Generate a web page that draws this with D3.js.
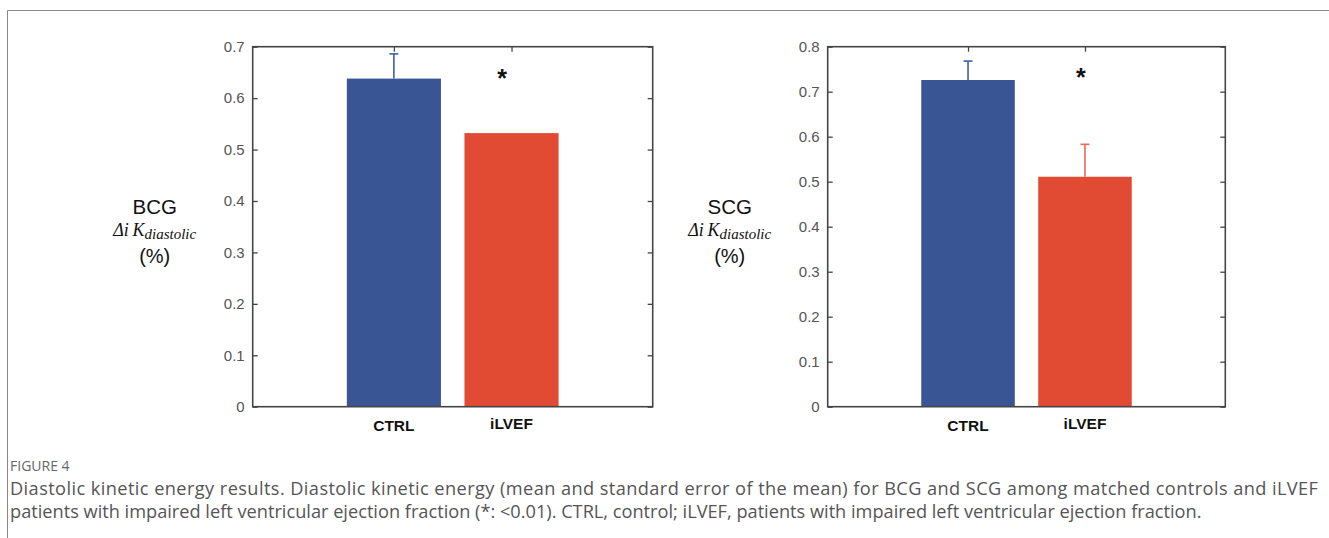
<!DOCTYPE html>
<html>
<head>
<meta charset="utf-8">
<script src="https://cdn.jsdelivr.net/npm/d3@7"></script>
<style>
  body { margin: 0; background: #fff; }
  svg { display: block; }
</style>
</head>
<body>
<div id="figure"></div>
<script>
// data
const groups = ["CTRL", "iLVEF"];
const bcgMean = [0.638, 0.532];
const bcgSem = [0.048, 0];
const scgMean = [0.726, 0.511];
const scgSem = [0.042, 0.072];
const bcgTicks = [0, 0.1, 0.2, 0.3, 0.4, 0.5, 0.6, 0.7];
const scgTicks = [0, 0.1, 0.2, 0.3, 0.4, 0.5, 0.6, 0.7, 0.8];
const captionLines = [
  "Diastolic kinetic energy results. Diastolic kinetic energy (mean and standard error of the mean) for BCG and SCG among matched controls and iLVEF",
  "patients with impaired left ventricular ejection fraction (*: <0.01). CTRL, control; iLVEF, patients with impaired left ventricular ejection fraction."
];

const W = 1329, H = 538;
const barColor = ["#3a5593", "#e14b33"];
const errColor = ["#3f5fa6", "#e8695a"];

const svg = d3.select("#figure")
  .append("svg")
    .attr("width", W)
    .attr("height", H);

// frame around the figure (top + left edges only visible)
svg.append("path")
  .attr("d", `M7.5,${H} V10.5 H${W}`)
  .attr("fill", "none")
  .attr("stroke", "#8a8a8a")
  .attr("stroke-width", 1);

function drawPanel(opt) {
  const w = opt.width, h = opt.height;
  const g = svg.append("g")
    .attr("transform", `translate(${opt.left}, ${opt.top})`);

  const x = d3.scaleLinear().domain([-0.2, 3.2]).range([0, w]);
  const y = d3.scaleLinear().domain([0, opt.yMax]).range([h, 0]);
  const bw = x(0.8) - x(0);

  // bars
  g.selectAll("rect.bar")
    .data(opt.mean)
    .join("rect")
      .attr("class", "bar")
      .attr("x", (d, i) => x(i + 1) - bw / 2)
      .attr("y", d => y(d))
      .attr("width", bw)
      .attr("height", d => y(0) - y(d))
      .attr("fill", (d, i) => barColor[i]);

  // error bars (upper half only, like the original)
  const err = g.selectAll("g.err")
    .data(opt.mean.map((m, i) => ({ m: m, s: opt.sem[i], i: i })).filter(d => d.s > 0))
    .join("g")
      .attr("class", "err")
      .attr("stroke", d => errColor[d.i])
      .attr("stroke-width", 1.6);
  err.append("line")
    .attr("x1", d => x(d.i + 1)).attr("x2", d => x(d.i + 1))
    .attr("y1", d => y(d.m)).attr("y2", d => y(d.m + d.s));
  err.append("line")
    .attr("x1", d => x(d.i + 1) - 4.5).attr("x2", d => x(d.i + 1) + 4.5)
    .attr("y1", d => y(d.m + d.s)).attr("y2", d => y(d.m + d.s));

  // axes, matlab style: box with inward ticks
  const fmt = d => d === 0 ? "0" : d3.format(".1f")(d);
  const axisStyle = sel => {
    sel.select(".domain").remove();
    sel.selectAll(".tick line").attr("stroke", "#444").attr("stroke-width", 1.3);
    sel.selectAll(".tick text")
      .attr("fill", "#555")
      .style("font-family", "'Liberation Sans', Arial, sans-serif")
      .style("font-size", "15px");
  };

  g.append("g")
    .call(d3.axisLeft(y).tickValues(opt.ticks).tickFormat(fmt).tickSizeInner(-5).tickPadding(8))
    .call(axisStyle);
  g.append("g")
    .attr("transform", `translate(${w}, 0)`)
    .call(d3.axisRight(y).tickValues(opt.ticks).tickFormat("").tickSizeInner(-5))
    .call(axisStyle);
  g.append("g")
    .call(d3.axisTop(x).tickValues([1, 2]).tickFormat("").tickSizeInner(-5))
    .call(axisStyle);

  g.append("rect")
    .attr("width", w)
    .attr("height", h)
    .attr("fill", "none")
    .attr("stroke", "#454545")
    .attr("stroke-width", 1.6);

  // category labels
  g.selectAll("text.cat")
    .data(groups)
    .join("text")
      .attr("class", "cat")
      .attr("x", (d, i) => x(i + 1))
      .attr("y", (d, i) => h + 24 - i * 1.5)
      .attr("text-anchor", "middle")
      .style("font-family", "'Liberation Sans', Arial, sans-serif")
      .style("font-weight", "bold")
      .style("font-size", "15.5px")
      .attr("fill", "#111")
      .text(d => d);

  // significance star
  g.append("text")
    .attr("x", x(opt.star[0]))
    .attr("y", y(opt.star[1]) + 15)
    .attr("text-anchor", "middle")
    .style("font-family", "'Liberation Sans', Arial, sans-serif")
    .style("font-weight", "bold")
    .style("font-size", "25px")
    .attr("fill", "#111")
    .text("*");

  // y label, three lines
  const lx = -98;
  g.append("text")
    .attr("x", lx).attr("y", 167)
    .attr("text-anchor", "middle")
    .style("font-family", "'Liberation Sans', Arial, sans-serif")
    .style("font-size", "20.5px")
    .attr("fill", "#111")
    .text(opt.name);
  const k = g.append("text")
    .attr("x", lx).attr("y", 189)
    .attr("text-anchor", "middle")
    .style("font-family", "'Liberation Serif', 'Times New Roman', serif")
    .style("font-style", "italic")
    .style("font-size", "18px")
    .attr("fill", "#111");
  k.append("tspan").text("\u0394i\u2009K");
  k.append("tspan").attr("dy", 3).style("font-size", "15px").text("diastolic");
  g.append("text")
    .attr("x", lx).attr("y", 216.5)
    .attr("text-anchor", "middle")
    .style("font-family", "'Liberation Sans', Arial, sans-serif")
    .style("font-size", "20px")
    .attr("fill", "#111")
    .text("(%)");
}

drawPanel({ name: "BCG", left: 252.7, top: 46.7, width: 400, height: 360, yMax: 0.7,
            mean: bcgMean, sem: bcgSem, ticks: bcgTicks, star: [1.92, 0.65] });
drawPanel({ name: "SCG", left: 827.7, top: 46.7, width: 397.6, height: 360, yMax: 0.8,
            mean: scgMean, sem: scgSem, ticks: scgTicks, star: [1.965, 0.747] });

// caption
svg.append("text")
  .attr("x", 10).attr("y", 471)
  .style("font-family", "'Open Sans', sans-serif")
  .style("font-size", "14px")
  .attr("fill", "#666")
  .text("FIGURE 4");

svg.selectAll("text.caption")
  .data(captionLines)
  .join("text")
    .attr("class", "caption")
    .attr("x", 10)
    .attr("y", (d, i) => 495 + i * 22.5)
    .style("font-family", "'Open Sans', sans-serif")
    .style("font-size", "18.2px")
    .attr("fill", "#555")
    .attr("textLength", (d, i) => i === 0 ? 1308 : null)
    .attr("lengthAdjust", "spacing")
    .text(d => d);
</script>
</body>
</html>
